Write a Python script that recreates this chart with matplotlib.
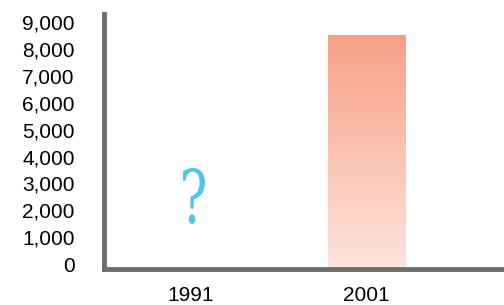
import numpy as np
import matplotlib; matplotlib.use("Agg")
import matplotlib.pyplot as plt
from matplotlib.colors import LinearSegmentedColormap
from matplotlib.font_manager import FontProperties
from matplotlib.patches import PathPatch
from matplotlib.textpath import TextPath
from matplotlib.transforms import Affine2D, ScaledTranslation

years = ["1991", "2001"]
values = [None, 8700]
yticks = list(range(0, 9001, 1000))

plt.rcParams["font.family"] = ["Liberation Sans", "DejaVu Sans"]

fig = plt.figure(figsize=(5.04, 3.05), dpi=100)
ax = fig.add_axes([104 / 504, (305 - 269) / 305, 400 / 504, (269 - 14) / 305])

ax.set_xlim(-0.49, 1.78)
ax.set_ylim(0, 9500)

cmap = LinearSegmentedColormap.from_list("sal", ["#fde5dc", "#f7a088"])
grad = np.linspace(0, 1, 256).reshape(-1, 1)
w = 0.44
for i, v in enumerate(values):
    if v is None:
        continue
    bar = ax.bar(i, v, width=w, color="none")[0]
    im = ax.imshow(grad, cmap=cmap, origin="lower", aspect="auto",
                   extent=[i - w / 2, i + w / 2, 0, v], zorder=1)
    im.set_clip_path(bar)

# narrow serif question mark for the missing 1991 value (box in pixels)
qp = TextPath((0, 0), "?", size=100, prop=FontProperties(family="DejaVu Serif"))
bb = qp.get_extents()
x0, x1, y0, y1 = 183, 205, 305 - 224, 305 - 168
tr = (Affine2D().translate(-bb.x0, -bb.y0)
      .scale((x1 - x0) / bb.width / 100, (y1 - y0) / bb.height / 100)
      .translate(x0 / 100, y0 / 100) + fig.dpi_scale_trans)
fig.add_artist(PathPatch(qp, transform=tr, fc="#4ec5ef", ec="none"))

ax.set_xticks(range(len(years)))
ax.set_xticklabels(years, fontsize=15)
ax.set_yticks(yticks)
ax.set_yticklabels([f"{t:,}" for t in yticks], fontsize=15)
ax.tick_params(length=0)
ax.tick_params(axis="y", pad=21)
ax.tick_params(axis="x", pad=12)
up = ScaledTranslation(0, 5 / 100, fig.dpi_scale_trans)
for lab in ax.get_yticklabels():
    lab.set_transform(lab.get_transform() + up)

for s in ["top", "right"]:
    ax.spines[s].set_visible(False)
for s in ["left", "bottom"]:
    ax.spines[s].set_color("#6d6d6d")
    ax.spines[s].set_linewidth(3.5)

plt.savefig("out.png", dpi=100)
